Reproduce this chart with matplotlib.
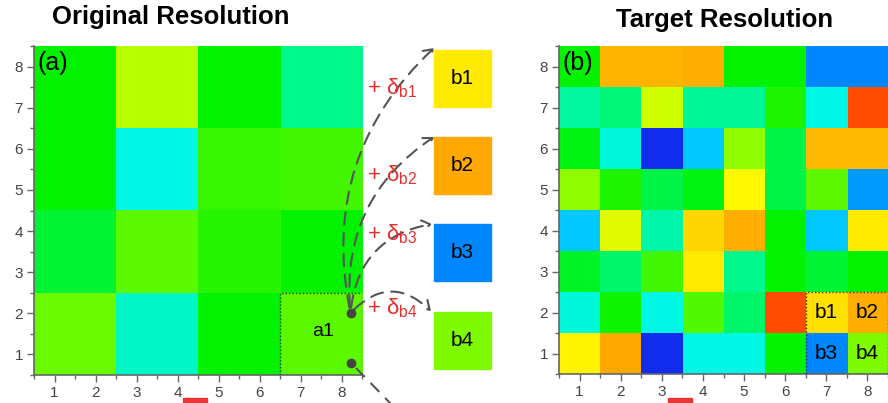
import numpy as np
import matplotlib
matplotlib.use("Agg")
import matplotlib.pyplot as plt
from matplotlib.colors import LinearSegmentedColormap
from matplotlib.patches import Rectangle, FancyArrowPatch
from matplotlib.ticker import MultipleLocator

plt.rcParams['font.family'] = ['Liberation Sans', 'DejaVu Sans']
plt.rcParams['mathtext.fontset'] = 'custom'
plt.rcParams['mathtext.rm'] = 'Liberation Sans'

# ---------------- data ----------------
# Original resolution: 4x4 blocks (rows top -> bottom, columns left -> right)
orig_blocks = [
    [0.50, 0.66, 0.50, 0.42],
    [0.50, 0.33, 0.54, 0.55],
    [0.47, 0.57, 0.53, 0.50],
    [0.58, 0.36, 0.50, 0.57],
]
# Target resolution: 8x8 cells (rows y=8 at top -> y=1 at bottom)
target = [
    [0.50, 0.85, 0.85, 0.86, 0.50, 0.50, 0.15, 0.15],
    [0.40, 0.43, 0.68, 0.41, 0.41, 0.52, 0.33, 0.97],
    [0.49, 0.34, 0.02, 0.25, 0.62, 0.46, 0.84, 0.84],
    [0.62, 0.52, 0.46, 0.49, 0.73, 0.46, 0.57, 0.18],
    [0.25, 0.70, 0.39, 0.80, 0.86, 0.50, 0.25, 0.76],
    [0.48, 0.44, 0.55, 0.76, 0.42, 0.50, 0.47, 0.50],
    [0.34, 0.51, 0.33, 0.56, 0.44, 0.97, 0.78, 0.86],
    [0.74, 0.87, 0.02, 0.33, 0.33, 0.50, 0.15, 0.60],
]
sub_labels = ['b1', 'b2', 'b3', 'b4']
sub_vals = [0.76, 0.87, 0.15, 0.60]
ticks = [1, 2, 3, 4, 5, 6, 7, 8]
titles = ['Original Resolution', 'Target Resolution']

# rainbow colormap similar to the reference
cmap = LinearSegmentedColormap.from_list('rb', [
    (0.00, (0.08, 0.12, 0.92)),
    (0.15, (0.00, 0.53, 1.00)),
    (0.25, (0.00, 0.78, 1.00)),
    (0.33, (0.00, 0.97, 0.90)),
    (0.42, (0.00, 0.97, 0.55)),
    (0.50, (0.00, 0.95, 0.00)),
    (0.58, (0.42, 0.98, 0.00)),
    (0.66, (0.72, 1.00, 0.00)),
    (0.73, (1.00, 0.98, 0.00)),
    (0.80, (1.00, 0.84, 0.00)),
    (0.88, (1.00, 0.64, 0.00)),
    (1.00, (1.00, 0.20, 0.00)),
])

W, H = 888, 403
fig = plt.figure(figsize=(W / 100, H / 100), dpi=100)

def px_axes(l, t, r, b):
    return fig.add_axes([l / W, 1 - b / H, (r - l) / W, (b - t) / H])

axa = px_axes(34, 46, 362, 375)
axb = px_axes(559, 46, 888, 374)

orig = np.kron(np.array(orig_blocks), np.ones((2, 2)))
axa.imshow(orig, cmap=cmap, vmin=0, vmax=1, extent=(0.5, 8.5, 0.5, 8.5),
           origin='upper', aspect='auto', interpolation='nearest')
axb.imshow(np.array(target), cmap=cmap, vmin=0, vmax=1, extent=(0.5, 8.5, 0.5, 8.5),
           origin='upper', aspect='auto', interpolation='nearest')

for ax in (axa, axb):
    ax.set_xlim(0.5, 8.5)
    ax.set_ylim(0.5, 8.5)
    ax.set_xticks(ticks)
    ax.set_yticks(ticks)
    ax.xaxis.set_minor_locator(MultipleLocator(0.5))
    ax.yaxis.set_minor_locator(MultipleLocator(0.5))
    ax.tick_params(which='major', direction='out', length=5, width=1,
                   color='#666666', labelsize=11, labelcolor='#444444', pad=3)
    ax.tick_params(which='minor', direction='out', length=3, width=1, color='#666666')
    for s in ('top', 'right'):
        ax.spines[s].set_visible(False)
    for s in ('left', 'bottom'):
        ax.spines[s].set_color('#666666')
        ax.spines[s].set_linewidth(1.2)
    ax.add_patch(Rectangle((6.5, 0.5), 2, 2, fill=False, ls=(0, (1, 1.5)),
                           lw=1.0, ec='#333333', zorder=3))

axa.text(0.58, 8.38, '(a)', fontsize=18, va='top', ha='left')
axb.text(0.58, 8.38, '(b)', fontsize=18, va='top', ha='left')
axa.text(7.55, 1.55, 'a1', fontsize=14, ha='center', va='center')
for i, lab in enumerate(sub_labels):
    axb.text(7 + i % 2, 2 - i // 2, lab, fontsize=15, ha='center', va='center')

fig.text(171 / W, 1 - 17 / H, titles[0], fontsize=18.5, fontweight='bold',
         ha='center', va='center')
fig.text(725 / W, 1 - 20 / H, titles[1], fontsize=18.5, fontweight='bold',
         ha='center', va='center')

# overlay in pixel coordinates for the middle schematic
ov = fig.add_axes([0, 0, 1, 1], zorder=5)
ov.set_xlim(0, W)
ov.set_ylim(H, 0)
ov.axis('off')

box_tops = [50, 137, 224, 312]
for lab, v, t in zip(sub_labels, sub_vals, box_tops):
    ov.add_patch(Rectangle((434, t), 57, 57, color=cmap(v)))
    ov.text(462.5, t + 28.5, lab, fontsize=15, ha='center', va='center')

delta_y = [88, 175, 234, 308]
for i, y in enumerate(delta_y):
    ov.text(367, y, r'+ δ$_{\mathregular{b%d}}$' % (i + 1), color='#e03030',
            fontsize=16, ha='left', va='center')

start = (350.5, 313)
ends = [(434, 48), (434, 137), (432, 224), (431, 311)]
rads = [-0.28, -0.3, -0.38, -0.5]
for e, r in zip(ends, rads):
    ov.add_patch(FancyArrowPatch(start, e, connectionstyle='arc3,rad=%g' % r,
                                 arrowstyle='->,head_length=6,head_width=4',
                                 ls=(0, (6, 4)), lw=1.5, color='#555555',
                                 shrinkA=4, shrinkB=0))
ov.plot([350.5, 351], [313, 363], 'o', ms=6, color='#444444')
ov.plot([356, 392], [368, 405], ls=(0, (6, 4)), lw=1.5, color='#555555')

# red marks cut off at the bottom edge
ov.add_patch(Rectangle((183, 398), 24, 6, color='#ee3333'))
ov.add_patch(Rectangle((668, 398), 24, 6, color='#ee3333'))

fig.savefig('out.png', dpi=100)
